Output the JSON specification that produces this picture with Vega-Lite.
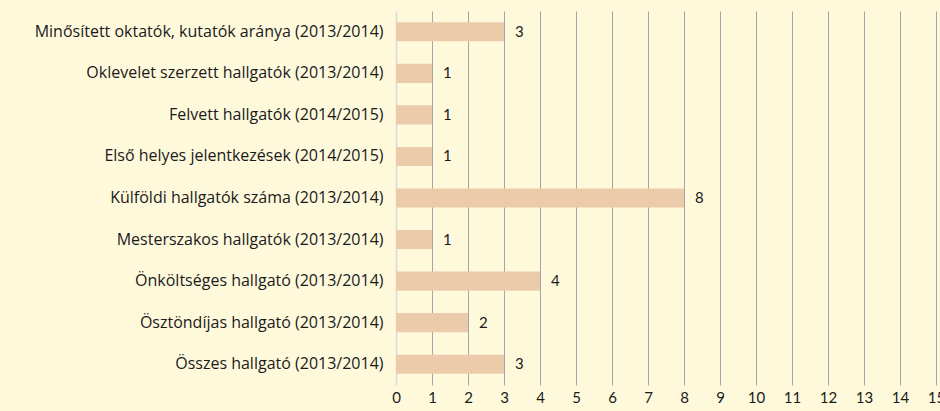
{
  "$schema": "https://vega.github.io/schema/vega-lite/v6.json",
  "width": 540,
  "height": 374,
  "autosize": {"type": "none"},
  "padding": {"left": 396, "top": 11, "right": 4, "bottom": 26},
  "background": "#FFF9DC",
  "config": {"view": {"stroke": null}, "font": "Lato"},
  "data": {
    "values": [
      {"label": "Minősített oktatók, kutatók aránya (2013/2014)", "value": 3},
      {"label": "Oklevelet szerzett hallgatók (2013/2014)", "value": 1},
      {"label": "Felvett hallgatók (2014/2015)", "value": 1},
      {"label": "Első helyes jelentkezések (2014/2015)", "value": 1},
      {"label": "Külföldi hallgatók száma (2013/2014)", "value": 8},
      {"label": "Mesterszakos hallgatók  (2013/2014)", "value": 1},
      {"label": "Önköltséges hallgató (2013/2014)", "value": 4},
      {"label": "Ösztöndíjas hallgató (2013/2014)", "value": 2},
      {"label": "Összes hallgató (2013/2014)", "value": 3}
    ]
  },
  "encoding": {
    "y": {
      "field": "label",
      "type": "nominal",
      "sort": null,
      "title": null,
      "scale": {"paddingInner": 0.54, "paddingOuter": 0.27},
      "axis": {
        "domain": true,
        "domainColor": "#D9D9D9",
        "domainWidth": 1.5,
        "ticks": false,
        "labelPadding": 13,
        "labelFont": "Open Sans",
        "labelFontSize": 16,
        "labelColor": "#1A1A1A",
        "labelLimit": 400
      }
    },
    "x": {
      "field": "value",
      "type": "quantitative",
      "title": null,
      "scale": {"domain": [0, 15], "nice": false},
      "axis": {
        "values": [0, 1, 2, 3, 4, 5, 6, 7, 8, 9, 10, 11, 12, 13, 14, 15],
        "domain": false,
        "ticks": false,
        "grid": true,
        "gridColor": {"condition": {"test": "datum.value === 0", "value": "#D9D9D9"}, "value": "#A6A6A6"},
        "gridWidth": 1,
        "labelPadding": 5,
        "labelFontSize": 15,
        "labelColor": "#1A1A1A",
        "labelFlush": false
      }
    }
  },
  "layer": [
    {"mark": {"type": "bar", "color": "#EBCBA9"}},
    {
      "mark": {"type": "text", "align": "left", "dx": 11, "fontSize": 15, "color": "#1A1A1A"},
      "encoding": {"text": {"field": "value", "type": "quantitative"}}
    }
  ]
}
